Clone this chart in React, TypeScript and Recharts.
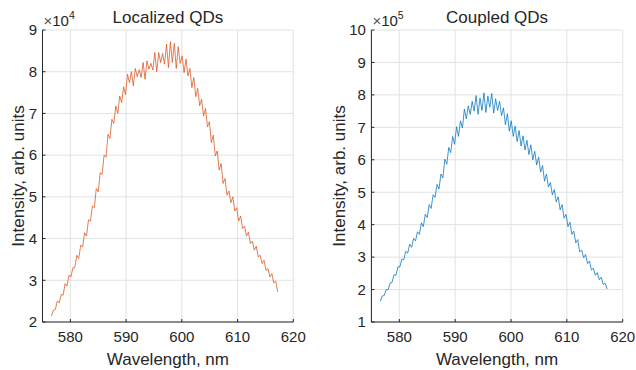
import React from "react";
import { LineChart, Line, XAxis, YAxis, CartesianGrid } from "recharts";

// Wavelength grid, nm (shared by both spectra)
const WAVELENGTH = [
  576.6, 576.95, 577.3, 577.65, 578.0, 578.35, 578.7, 579.05, 579.4, 579.75,
  580.1, 580.45, 580.8, 581.15, 581.5, 581.85, 582.2, 582.55, 582.9, 583.25,
  583.6, 583.95, 584.3, 584.65, 585.0, 585.35, 585.7, 586.05, 586.4, 586.75,
  587.1, 587.45, 587.8, 588.15, 588.5, 588.85, 589.2, 589.55, 589.9, 590.25,
  590.6, 590.95, 591.3, 591.65, 592.0, 592.35, 592.7, 593.05, 593.4, 593.75,
  594.1, 594.45, 594.8, 595.15, 595.5, 595.85, 596.2, 596.55, 596.9, 597.25,
  597.6, 597.95, 598.3, 598.65, 599.0, 599.35, 599.7, 600.05, 600.4, 600.75,
  601.1, 601.45, 601.8, 602.15, 602.5, 602.85, 603.2, 603.55, 603.9, 604.25,
  604.6, 604.95, 605.3, 605.65, 606.0, 606.35, 606.7, 607.05, 607.4, 607.75,
  608.1, 608.45, 608.8, 609.15, 609.5, 609.85, 610.2, 610.55, 610.9, 611.25,
  611.6, 611.95, 612.3, 612.65, 613.0, 613.35, 613.7, 614.05, 614.4, 614.75,
  615.1, 615.45, 615.8, 616.15, 616.5, 616.85, 617.2,
];

// Localized QDs intensity, x10^4 arb. units
const LOCALIZED = [
  2.14, 2.28, 2.3, 2.5, 2.46, 2.66, 2.64, 2.92, 2.86, 3.12,
  3.08, 3.3, 3.3, 3.6, 3.52, 3.84, 3.8, 4.14, 4.06, 4.45,
  4.42, 4.78, 4.74, 5.2, 5.12, 5.58, 5.54, 6.0, 5.95, 6.5,
  6.4, 6.86, 6.76, 7.18, 7.0, 7.42, 7.26, 7.64, 7.45, 7.94,
  7.74, 8.0, 7.66, 8.08, 7.88, 8.05, 7.86, 8.22, 7.82, 8.26,
  8.06, 8.2, 8.04, 8.46, 8.0, 8.46, 8.22, 8.44, 8.18, 8.66,
  8.1, 8.72, 8.22, 8.68, 8.08, 8.6, 8.2, 8.38, 7.98, 8.3,
  7.9, 8.08, 7.62, 7.86, 7.4, 7.6, 7.18, 7.34, 6.94, 7.12,
  6.68, 6.8, 6.3, 6.48, 5.98, 6.1, 5.64, 5.8, 5.32, 5.44,
  5.04, 5.14, 4.86, 5.0, 4.66, 4.74, 4.42, 4.54, 4.24, 4.3,
  4.06, 4.16, 3.88, 3.94, 3.72, 3.82, 3.56, 3.6, 3.4, 3.48,
  3.24, 3.28, 3.08, 3.16, 2.94, 2.98, 2.72,
];

// Coupled QDs intensity, x10^5 arb. units
const COUPLED = [
  1.64, 1.8, 1.82, 2.0, 2.0, 2.2, 2.22, 2.46, 2.44, 2.7,
  2.7, 2.94, 2.92, 3.18, 3.12, 3.4, 3.3, 3.58, 3.5, 3.78,
  3.7, 4.06, 3.94, 4.32, 4.22, 4.62, 4.5, 4.92, 4.84, 5.24,
  5.1, 5.56, 5.44, 6.02, 5.86, 6.38, 6.22, 6.72, 6.48, 7.02,
  6.72, 7.2, 6.98, 7.56, 7.26, 7.66, 7.4, 7.8, 7.5, 7.98,
  7.4, 7.9, 7.52, 8.06, 7.46, 7.96, 7.62, 8.04, 7.44, 7.88,
  7.52, 7.8, 7.36, 7.6, 7.08, 7.42, 6.88, 7.2, 6.72, 7.04,
  6.56, 6.9, 6.42, 6.74, 6.3, 6.6, 6.16, 6.46, 6.0, 6.26,
  5.84, 6.08, 5.62, 5.82, 5.34, 5.56, 5.16, 5.3, 4.92, 5.08,
  4.7, 4.86, 4.46, 4.62, 4.2, 4.32, 3.94, 4.08, 3.7, 3.8,
  3.44, 3.54, 3.16, 3.22, 2.98, 3.08, 2.8, 2.88, 2.6, 2.66,
  2.44, 2.52, 2.3, 2.38, 2.16, 2.2, 2.02,
];

const X_TICKS = [580, 590, 600, 610, 620];
const LOCALIZED_Y_TICKS = [2, 3, 4, 5, 6, 7, 8, 9];
const COUPLED_Y_TICKS = [1, 2, 3, 4, 5, 6, 7, 8, 9, 10];

const FONT = "'Liberation Sans', Arial, Helvetica, sans-serif";
const TXT = "#262626";

type PanelProps = {
  left: number;
  values: number[];
  color: string;
  yTicks: number[];
  yAxisWidth: number;
  rightMargin: number;
  title: string;
  exponent: string;
  yLabelX: number;
};

function Panel(p: PanelProps) {
  const data = WAVELENGTH.map((wl, i) => ({ wl, v: p.values[i] }));
  const W = 318;
  const H = 370;
  const plotLeft = p.yAxisWidth;
  const plotRight = W - p.rightMargin;
  const cx = (plotLeft + plotRight) / 2;
  return (
    <div style={{ position: "absolute", left: p.left, top: 0, width: W, height: H }}>
      <LineChart
        width={W}
        height={H}
        data={data}
        margin={{ top: 30, right: p.rightMargin, left: 0, bottom: 0 }}
      >
        <CartesianGrid stroke="#e2e2e2" strokeWidth={1} />
        <XAxis
          dataKey="wl"
          type="number"
          domain={[575, 620]}
          ticks={X_TICKS}
          interval={0}
          allowDataOverflow
          height={48}
          stroke="#262626"
          tickSize={-3}
          tickMargin={12.5}
          tick={{ fill: TXT, fontSize: 15, fontFamily: FONT }}
        />
        <YAxis
          type="number"
          domain={[p.yTicks[0], p.yTicks[p.yTicks.length - 1]]}
          ticks={p.yTicks}
          interval={0}
          allowDataOverflow
          width={p.yAxisWidth}
          stroke="#262626"
          tickSize={-3}
          tickMargin={8.5}
          tick={{ fill: TXT, fontSize: 15, fontFamily: FONT }}
        />
        <Line
          type="linear"
          dataKey="v"
          stroke={p.color}
          strokeWidth={0.75}
          dot={false}
          isAnimationActive={false}
        />
      </LineChart>
      <svg
        width={W}
        height={H}
        style={{ position: "absolute", left: 0, top: 0, pointerEvents: "none" }}
        fontFamily={FONT}
      >
        <text x={cx} y={22.7} textAnchor="middle" fontSize={17} fill={TXT}>
          {p.title}
        </text>
        <text x={plotLeft + 1} y={25.5} fontSize={15} fill={TXT}>
          <tspan fill="#555">×</tspan>
          <tspan>10</tspan>
          <tspan dy={-6.5} fontSize={10.5}>{p.exponent}</tspan>
        </text>
        <text
          x={p.yLabelX}
          y={176}
          textAnchor="middle"
          fontSize={17}
          fill={TXT}
          transform={`rotate(-90, ${p.yLabelX}, 176)`}
        >
          Intensity, arb. units
        </text>
        <text x={cx} y={365} textAnchor="middle" fontSize={17} fill={TXT}>
          Wavelength, nm
        </text>
      </svg>
    </div>
  );
}

export default function App() {
  return (
    <div
      style={{
        position: "absolute",
        left: 0,
        top: 0,
        width: 636,
        height: 370,
        background: "#ffffff",
        overflow: "hidden",
      }}
    >
      <Panel
        left={0}
        values={LOCALIZED}
        color="#D95319"
        yTicks={LOCALIZED_Y_TICKS}
        yAxisWidth={42.5}
        rightMargin={24.7}
        title="Localized QDs"
        exponent="4"
        yLabelX={23.5}
      />
      <Panel
        left={318}
        values={COUPLED}
        color="#0072BD"
        yTicks={COUPLED_Y_TICKS}
        yAxisWidth={53.4}
        rightMargin={13.3}
        title="Coupled QDs"
        exponent="5"
        yLabelX={27}
      />
    </div>
  );
}
